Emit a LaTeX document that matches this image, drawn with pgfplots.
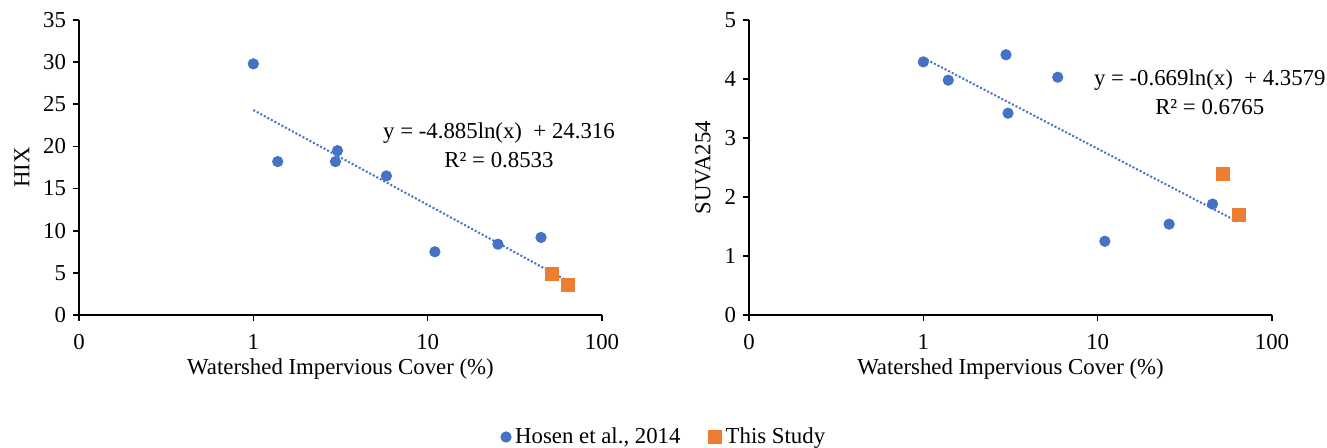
\documentclass[border=0pt]{standalone}
\usepackage{pgfplots}
\pgfplotsset{compat=1.18}
\usepackage{fontspec}
\setmainfont{Liberation Serif}
\definecolor{xblue}{HTML}{4472C4}
\definecolor{xorange}{HTML}{ED7D31}
\newcommand{\ff}{\fontsize{11.4}{13}\selectfont}
\pgfplotsset{
  myaxis/.style={
    scale only axis, width=261.5pt, height=147.5pt,
    anchor=south west,
    xmin=0.1, xmax=100,
    xtick={0.1,1,10,100}, xticklabels={0,1,10,100},
    xminorticks=false,
    axis lines*=left,
    axis line style={black, line width=0.8pt},
    tick align=outside, tick style={black, line width=0.8pt},
    major tick length=3pt,
    ymin=0,
    tick label style={font=\ff},
    xticklabel style={yshift=-3pt},
    label style={font=\ff},
    /pgf/number format/assume math mode=true,
    xlabel={Watershed Impervious Cover (\%)},
    xlabel style={yshift=2pt},
    clip=false,
  },
  hosen/.style={only marks, mark=*, mark size=2.6pt, color=xblue, mark options={fill=xblue, draw=xblue}},
  study/.style={only marks, mark=square*, mark size=3.3pt, color=xorange, mark options={fill=xorange, draw=xorange}},
  trend/.style={xblue, densely dotted, line width=1pt, no marks, forget plot},
}
\begin{document}
\begin{tikzpicture}[x=1pt,y=1pt]
\useasboundingbox (0,0) rectangle (663.5,224);
\begin{semilogxaxis}[myaxis, at={(39.5pt,66.5pt)},
  ymax=35, ytick={0,5,...,35}, ylabel={HIX}]
\addplot[trend] coordinates {(1,24.316) (64,4.0)};
\addplot[hosen] coordinates {
(1,29.8) (1.38,18.2) (2.96,18.2) (3.04,19.5) (5.8,16.5) (11,7.5) (25.3,8.4) (44.7,9.2)};
\addplot[study] coordinates {(51.7,4.9) (63.5,3.6)};
\node[align=center, font=\ff] at (rel axis cs:0.803,0.617) {y = -4.885ln(x)\ \ + 24.316};
\node[align=center, font=\ff] at (rel axis cs:0.803,0.525) {R² = 0.8533};
\end{semilogxaxis}
\begin{semilogxaxis}[myaxis, at={(374.5pt,66.5pt)},
  ymax=5, ytick={0,1,...,5}, ylabel={SUVA254},
  legend style={at={(-0.1606,-0.4136)}, anchor=center, draw=none, legend columns=2,
    font=\ff, /tikz/every even column/.append style={column sep=12pt}},
  legend cell align=left]
\addplot[trend] coordinates {(1,4.3579) (64,1.5756)};
\addplot[hosen] coordinates {
(1,4.29) (1.39,3.98) (2.98,4.41) (3.06,3.42) (5.9,4.03) (11,1.25) (25.7,1.54) (45.6,1.88)};
\addlegendentry{Hosen et al., 2014}
\addplot[study] coordinates {(52.5,2.39) (64.5,1.69)};
\addlegendentry{This Study}
\node[align=center, font=\ff] at (rel axis cs:0.881,0.797) {y = -0.669ln(x)\ \ + 4.3579};
\node[align=center, font=\ff] at (rel axis cs:0.881,0.705) {R² = 0.6765};
\end{semilogxaxis}
\end{tikzpicture}
\end{document}
